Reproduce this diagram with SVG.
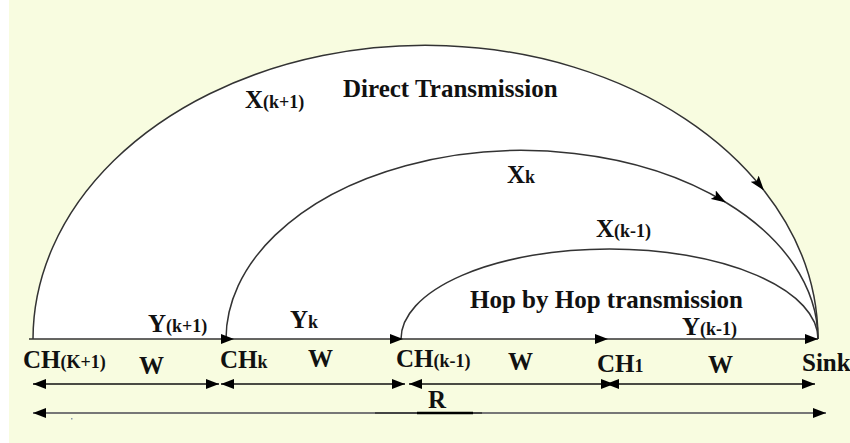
<svg xmlns="http://www.w3.org/2000/svg" width="850" height="443" viewBox="0 0 850 443">
  <style>
    .lbl { font-weight: bold; font-size: 25px; fill: #111; }
    .sub { font-size: 18px; }
    .arc { fill: none; stroke: #333; stroke-width: 1.5; }
    .base { fill: none; stroke: #333; stroke-width: 1.4; }
    .dim { fill: none; stroke: #111; stroke-width: 1.5; }
  </style>
  <defs>
    <marker id="arr" markerUnits="userSpaceOnUse" viewBox="0 0 13 10" refX="13" refY="5" markerWidth="13" markerHeight="10" orient="auto">
      <path d="M0,0 L13,5 L0,10 Z" fill="#000"/>
    </marker>
    <marker id="arrA" markerUnits="userSpaceOnUse" viewBox="0 0 15 10" refX="15" refY="5" markerWidth="15" markerHeight="10" orient="auto">
      <path d="M0,0 L15,5 L0,10 L3,5 Z" fill="#000"/>
    </marker>
    <marker id="arrD" markerUnits="userSpaceOnUse" viewBox="0 0 13 10" refX="13" refY="5" markerWidth="13" markerHeight="10" orient="auto">
      <path d="M0,0 L13,5 L0,10 Z" fill="#000"/>
    </marker>
    <marker id="arrDS" markerUnits="userSpaceOnUse" viewBox="0 0 13 10" refX="0" refY="5" markerWidth="13" markerHeight="10" orient="auto">
      <path d="M13,0 L0,5 L13,10 Z" fill="#000"/>
    </marker>
  </defs>

  <!-- background -->
  <rect x="0" y="0" width="850" height="443" fill="#f8fce0"/>
  <rect x="0" y="0" width="9" height="443" fill="#ffffff"/>
  <path d="M33,339 A392.5,294 0 0,1 818,339 Z" fill="#ffffff"/>
  <rect x="71" y="418" width="1.5" height="1.5" fill="#8899aa"/>

  <g id="connectors">
    <path class="arc" d="M33,339 A392.5,294 0 0,1 764,190.5" marker-end="url(#arrA)"/>
    <path class="arc" d="M764,190.5 A392.5,294 0 0,1 818,339"/>
    <path class="arc" d="M226,339 A296,189 0 0,1 726,202.5" marker-end="url(#arrA)"/>
    <path class="arc" d="M726,202.5 A296,189 0 0,1 818,339"/>
    <path class="arc" d="M401,339 A208.5,90 0 0,1 818,339"/>
    <path class="base" d="M29,339 H234" marker-end="url(#arr)"/>
    <path class="base" d="M234,339 H403" marker-end="url(#arr)"/>
    <path class="base" d="M403,339 H608" marker-end="url(#arr)"/>
    <path class="base" d="M608,339 H818" marker-end="url(#arr)"/>
    <path class="dim" d="M33,384 H219" marker-start="url(#arrDS)" marker-end="url(#arrD)"/>
    <path class="dim" d="M221,384 H405" marker-start="url(#arrDS)" marker-end="url(#arrD)"/>
    <path class="dim" d="M409,384 H614" marker-start="url(#arrDS)" marker-end="url(#arrD)"/>
    <path class="dim" d="M606,384 H815" marker-start="url(#arrDS)" marker-end="url(#arrD)"/>
    <path d="M33,413 H826" fill="none" stroke="#777" stroke-width="2" marker-start="url(#arrDS)" marker-end="url(#arrD)"/>
    <path d="M375,413 H482" fill="none" stroke="#444" stroke-width="2"/>
    <path d="M417,413 H473" fill="none" stroke="#000" stroke-width="2.5"/>
  </g>

  <g font-family="Liberation Serif, serif">
    <g id="edge-labels">
      <g id="lbl-direct"><text class="lbl" x="343" y="97">Direct Transmission</text></g>
      <g id="lbl-xk1"><text class="lbl" x="245" y="108">X<tspan class="sub">(k+1)</tspan></text></g>
      <g id="lbl-xk"><text class="lbl" x="507" y="183">X<tspan class="sub">k</tspan></text></g>
      <g id="lbl-xkm1"><text class="lbl" x="596" y="237">X<tspan class="sub">(k-1)</tspan></text></g>
      <g id="lbl-hop"><text class="lbl" x="470" y="308">Hop by Hop transmission</text></g>
      <g id="lbl-yk1"><text class="lbl" x="148" y="332">Y<tspan class="sub">(k+1)</tspan></text></g>
      <g id="lbl-yk"><text class="lbl" x="290" y="328">Y<tspan class="sub">k</tspan></text></g>
      <g id="lbl-ykm1"><text class="lbl" x="682" y="335">Y<tspan class="sub">(k-1)</tspan></text></g>
      <g id="lbl-w1"><text class="lbl" x="139" y="374">W</text></g>
      <g id="lbl-w2"><text class="lbl" x="308" y="367">W</text></g>
      <g id="lbl-w3"><text class="lbl" x="508" y="370">W</text></g>
      <g id="lbl-w4"><text class="lbl" x="708" y="373">W</text></g>
      <g id="lbl-r"><text class="lbl" x="428" y="408">R</text></g>
    </g>
    <g id="node-chk1"><text class="lbl" x="23" y="368">CH<tspan class="sub">(K+1)</tspan></text></g>
    <g id="node-chk"><text class="lbl" x="220" y="368">CH<tspan class="sub">k</tspan></text></g>
    <g id="node-chkm1"><text class="lbl" x="396" y="367">CH<tspan class="sub">(k-1)</tspan></text></g>
    <g id="node-ch1"><text class="lbl" x="597" y="372">CH<tspan class="sub">1</tspan></text></g>
    <g id="node-sink"><text class="lbl" x="802" y="371">Sink</text></g>
  </g>
</svg>
